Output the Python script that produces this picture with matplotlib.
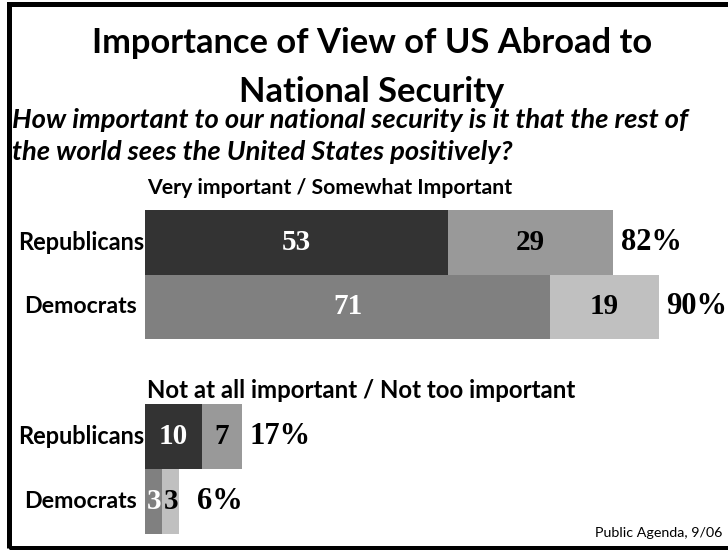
import matplotlib
matplotlib.use("Agg")
import matplotlib.pyplot as plt
from matplotlib.patches import Rectangle
import logging
logging.getLogger("matplotlib.font_manager").setLevel(logging.ERROR)

categories = ["Republicans", "Democrats"]
imp_very = [53, 71]
imp_somewhat = [29, 19]
imp_total = ["82%", "90%"]
not_at_all = [10, 3]
not_too = [7, 3]
not_total = ["17%", "6%"]

title_lines = ["Importance of View of US Abroad to", "National Security"]
subtitle_lines = ["How important to our national security is it that the rest of",
                  "the world sees the United States positively?"]
top_header = "Very important / Somewhat Important"
bottom_header = "Not at all important / Not too important"
source = "Public Agenda, 9/06"

sans = ["Lato", "Liberation Sans"]
serif = ["Liberation Serif", "DejaVu Serif"]

colors_first = ["#333333", "#808080"]
colors_second = ["#999999", "#c0c0c0"]
text_first = ["white", "white"]
text_second = ["black", "black"]

W, H = 728, 550
fig = plt.figure(figsize=(W / 100, H / 100), dpi=100)
renderer = fig.canvas.get_renderer()


def fit(t, target_w):
    """Scale a text's font size so that its rendered width is target_w pixels."""
    for _ in range(3):
        w = t.get_window_extent(renderer).width
        t.set_fontsize(t.get_fontsize() * target_w / w)
    return t


def px_axes(x0, y0, x1, y1):
    return fig.add_axes([x0 / W, 1 - y1 / H, (x1 - x0) / W, (y1 - y0) / H])


scale = 5.71
left = 145
right = 728
label_widths = [127, 113]
label_gaps = [1, 8]


def draw(ax, first, second, totals, total_gaps):
    y = list(range(len(categories)))
    ax.barh(y, first, height=1.0, color=colors_first, left=0)
    ax.barh(y, second, height=1.0, color=colors_second, left=first)
    ax.set_xlim(0, (right - left) / scale)
    ax.set_ylim(1.5, -0.5)
    ax.axis("off")
    for i in y:
        ax.text(first[i] / 2, i, str(first[i]), ha="center", va="center",
                color=text_first[i], fontsize=21, fontweight="bold", family=serif)
        ax.text(first[i] + second[i] / 2, i, str(second[i]), ha="center", va="center",
                color=text_second[i], fontsize=21, fontweight="bold", family=serif)
        ax.annotate(totals[i], (first[i] + second[i], i), xytext=(total_gaps[i], 0),
                    textcoords="offset points", ha="left", va="center",
                    fontsize=22, fontweight="bold", family=serif)
        t = ax.annotate(categories[i], (0, i), xytext=(-label_gaps[i] * 0.72, 0),
                        textcoords="offset points", ha="right", va="center",
                        fontsize=15, fontweight="bold", family=sans,
                        annotation_clip=False)
        fit(t, label_widths[i])


ax1 = px_axes(left, 210, right, 339)
draw(ax1, imp_very, imp_somewhat, imp_total, [5.5, 5.5])
ax2 = px_axes(left, 404, right, 534)
draw(ax2, not_at_all, not_too, not_total, [5.5, 13])

t1 = fig.text(372 / W, 1 - 43 / H, title_lines[0], ha="center", va="center",
              fontsize=24, fontweight="bold", family=sans)
fit(t1, 560)
fig.text(372 / W, 1 - 92 / H, title_lines[1], ha="center", va="center",
         fontsize=t1.get_fontsize(), fontweight="bold", family=sans)
s1 = fig.text(12 / W, 1 - 120 / H, subtitle_lines[0], ha="left", va="center",
              fontsize=16, fontweight="bold", fontstyle="italic", family=sans)
fit(s1, 678)
fig.text(12 / W, 1 - 152 / H, subtitle_lines[1], ha="left", va="center",
         fontsize=s1.get_fontsize(), fontweight="bold", fontstyle="italic", family=sans)
h1 = fig.text(147 / W, 1 - 188 / H, top_header, ha="left", va="center",
              fontsize=14, fontweight="bold", family=sans)
fit(h1, 365)
h2 = fig.text(147 / W, 1 - 390 / H, bottom_header, ha="left", va="center",
              fontsize=14, fontweight="bold", family=sans)
fit(h2, 426)
src = fig.text(722 / W, 1 - 533 / H, source, ha="right", va="center",
               fontsize=11, family=sans)
fit(src, 128)

fig.patches.append(Rectangle((8.5 / W, 2.5 / H), 1.2, (547.5 - 4) / H,
                             transform=fig.transFigure, fill=False,
                             edgecolor="black", linewidth=3.6))

fig.savefig("out.png", dpi=100)
